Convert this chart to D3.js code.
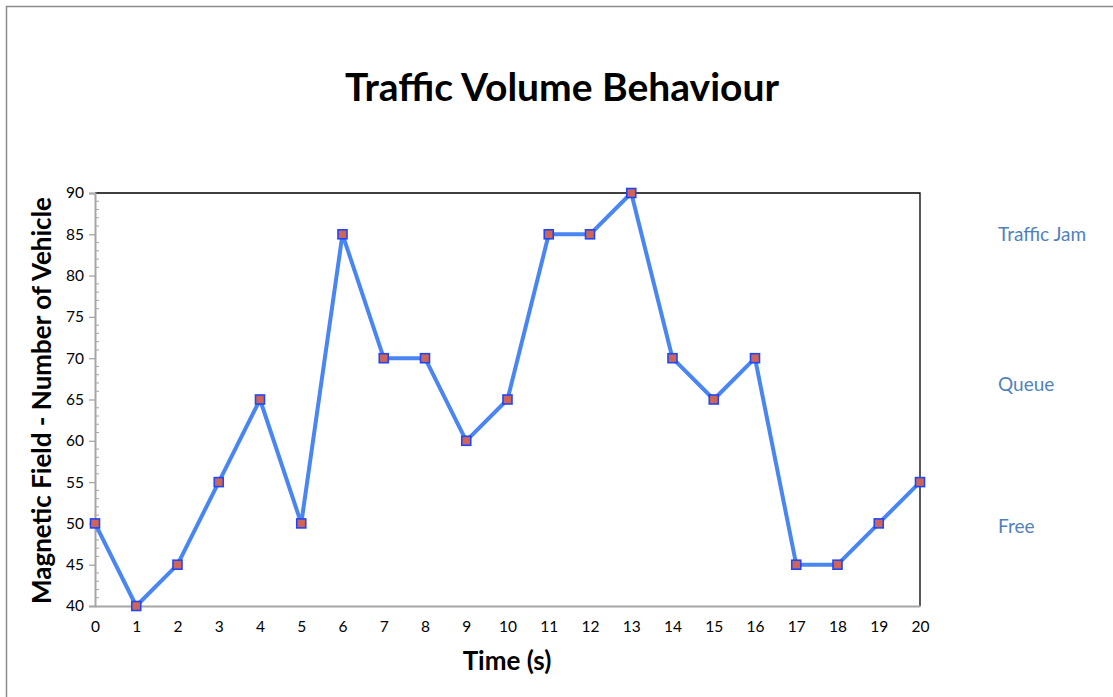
<!DOCTYPE html>
<html><head><meta charset="utf-8">
<script src="https://cdn.jsdelivr.net/npm/d3@7"></script>
<style>body{margin:0;background:#fff}svg{display:block}</style>
</head><body>
<svg id="c" width="1113" height="697"></svg>
<script>
const times = [0,1,2,3,4,5,6,7,8,9,10,11,12,13,14,15,16,17,18,19,20];
const vehicles = [50,40,45,55,65,50,85,70,70,60,65,85,85,90,70,65,70,45,45,50,55];
const yTicks = [40,45,50,55,60,65,70,75,80,85,90];
const stateLabels = ["Traffic Jam","Queue","Free"];
const stateLevels = [85,66.8,49.6];

const font = "Lato, 'Open Sans', sans-serif";
const svg = d3.select("#c");
// outer frame
svg.append("path").attr("d","M6.5,697 V6.5 H1113").attr("fill","none").attr("stroke","#8c8c8c").attr("stroke-width",1.5);

const x = d3.scaleLinear().domain([0,20]).range([95,920]);
const y = d3.scaleLinear().domain([40,90]).range([606,193]);

// plot frame top/right black
svg.append("path").attr("d",`M${x(0)},${y(90)} H${x(20)} V${y(40)}`).attr("fill","none").attr("stroke","#000").attr("stroke-width",1.3);

// minor ticks
const minor = d3.range(40,91,1).filter(v=>v%5!==0);
svg.append("g").selectAll("line").data(minor).join("line")
  .attr("x1",x(0)).attr("x2",x(0)+4).attr("y1",d=>y(d)).attr("y2",d=>y(d))
  .attr("stroke","#a6a6a6").attr("stroke-width",1);

// y axis
const ya = svg.append("g").attr("transform",`translate(${x(0)},0)`)
  .call(d3.axisLeft(y).tickValues(yTicks).tickSize(6).tickPadding(5));
ya.select(".domain").attr("stroke","#a6a6a6").attr("stroke-width",2);
ya.selectAll(".tick line").attr("stroke","#a6a6a6").attr("stroke-width",1.3);
ya.selectAll("text").attr("font-family",font).attr("font-size",15.5).attr("fill","#000");

// x axis
const xa = svg.append("g").attr("transform",`translate(0,${y(40)})`)
  .call(d3.axisBottom(x).tickValues(times).tickSize(0).tickPadding(15).tickFormat(d3.format("d")));
xa.select(".domain").attr("stroke","#a6a6a6").attr("stroke-width",2);
xa.selectAll("text").attr("font-family",font).attr("font-size",15.5).attr("fill","#000");

// line
const line = d3.line().x((d,i)=>x(times[i])).y(d=>y(d));
svg.append("path").datum(vehicles).attr("d",line).attr("fill","none")
  .attr("stroke","#4a86f2").attr("stroke-width",4).attr("stroke-linejoin","round");

// markers
svg.append("g").selectAll("rect").data(vehicles).join("rect")
  .attr("x",(d,i)=>x(times[i])-4.5).attr("y",d=>y(d)-4.5).attr("width",9).attr("height",9)
  .attr("fill","#cf6559").attr("stroke","#2146f5").attr("stroke-width",1.6);

// title
svg.append("text").attr("x",562).attr("y",101).attr("text-anchor","middle")
  .attr("font-family",font).attr("font-weight","bold").attr("font-size",39).text("Traffic Volume Behaviour");
// x title
svg.append("text").attr("x",507).attr("y",670).attr("text-anchor","middle")
  .attr("font-family",font).attr("font-weight","bold").attr("font-size",26).text("Time (s)");
// y title
svg.append("text").attr("transform",`translate(51,${y(65)+1}) rotate(-90)`).attr("text-anchor","middle")
  .attr("font-family",font).attr("font-weight","bold").attr("font-size",26).text("Magnetic Field - Number of Vehicle");

// state labels
svg.append("g").selectAll("text").data(stateLabels).join("text")
  .attr("x",998).attr("y",(d,i)=>y(stateLevels[i])).attr("dy","0.35em")
  .attr("font-family",font).attr("font-size",19).attr("fill","#4f81bd").text(d=>d);
</script>
</body></html>
